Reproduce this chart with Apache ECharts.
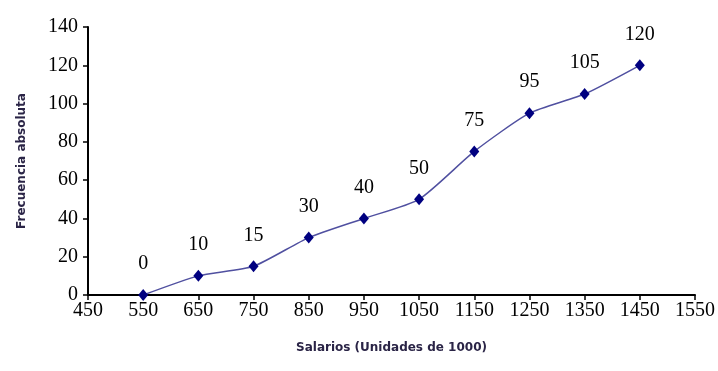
<!DOCTYPE html>
<html><head><meta charset="utf-8">
<script src="https://cdn.jsdelivr.net/npm/echarts@6/dist/echarts.min.js"></script>
<style>html,body{margin:0;padding:0;background:#fff}#c{width:718px;height:371px}</style>
</head><body><div id="c"></div>
<script>
var salarios = [550, 650, 750, 850, 950, 1050, 1150, 1250, 1350, 1450];
var frecuencia = [0, 10, 15, 30, 40, 50, 75, 95, 105, 120];
var xTitle = 'Salarios (Unidades de 1000)';
var yTitle = 'Frecuencia absoluta';
var chart = echarts.init(document.getElementById('c'));
var serif = '"Liberation Serif", "Times New Roman", serif';
var nameStyle = {fontFamily: '"DejaVu Sans", Arial, sans-serif', fontWeight: 'bold', fontSize: 12, color: '#2a2446'};
chart.setOption({
  animation: false,
  grid: {left: 88, right: 22, top: 27, bottom: 76},
  xAxis: {
    type: 'value', min: 450, max: 1550, interval: 100,
    name: xTitle, nameLocation: 'middle', nameGap: 47, nameTextStyle: nameStyle,
    axisLine: {show: true, lineStyle: {color: '#000', width: 2}},
    axisTick: {show: true, length: 5, lineStyle: {color: '#000', width: 1.5}},
    axisLabel: {fontFamily: serif, fontSize: 20, color: '#000', margin: 6,
      formatter: function (v) { return String(v); }},
    splitLine: {show: false}
  },
  yAxis: {
    type: 'value', min: 0, max: 140, interval: 20,
    name: yTitle, nameLocation: 'middle', nameGap: 60, nameTextStyle: nameStyle,
    axisLine: {show: true, lineStyle: {color: '#000', width: 2}},
    axisTick: {show: true, length: 5, lineStyle: {color: '#000', width: 1.5}},
    axisLabel: {fontFamily: serif, fontSize: 20, color: '#000', margin: 10,
      formatter: function (v) { return String(v); }},
    splitLine: {show: false}
  },
  series: [{
    type: 'line',
    data: salarios.map(function (s, i) { return [s, frecuencia[i]]; }),
    smooth: 0.2,
    symbol: 'diamond', symbolSize: [10, 12],
    itemStyle: {color: '#000080'},
    lineStyle: {color: '#5050a0', width: 1.5},
    label: {show: true, position: 'top', distance: 15, fontFamily: serif, fontSize: 20, color: '#000',
      formatter: function (p) { return String(p.value[1]); }}
  }]
});
</script></body></html>
